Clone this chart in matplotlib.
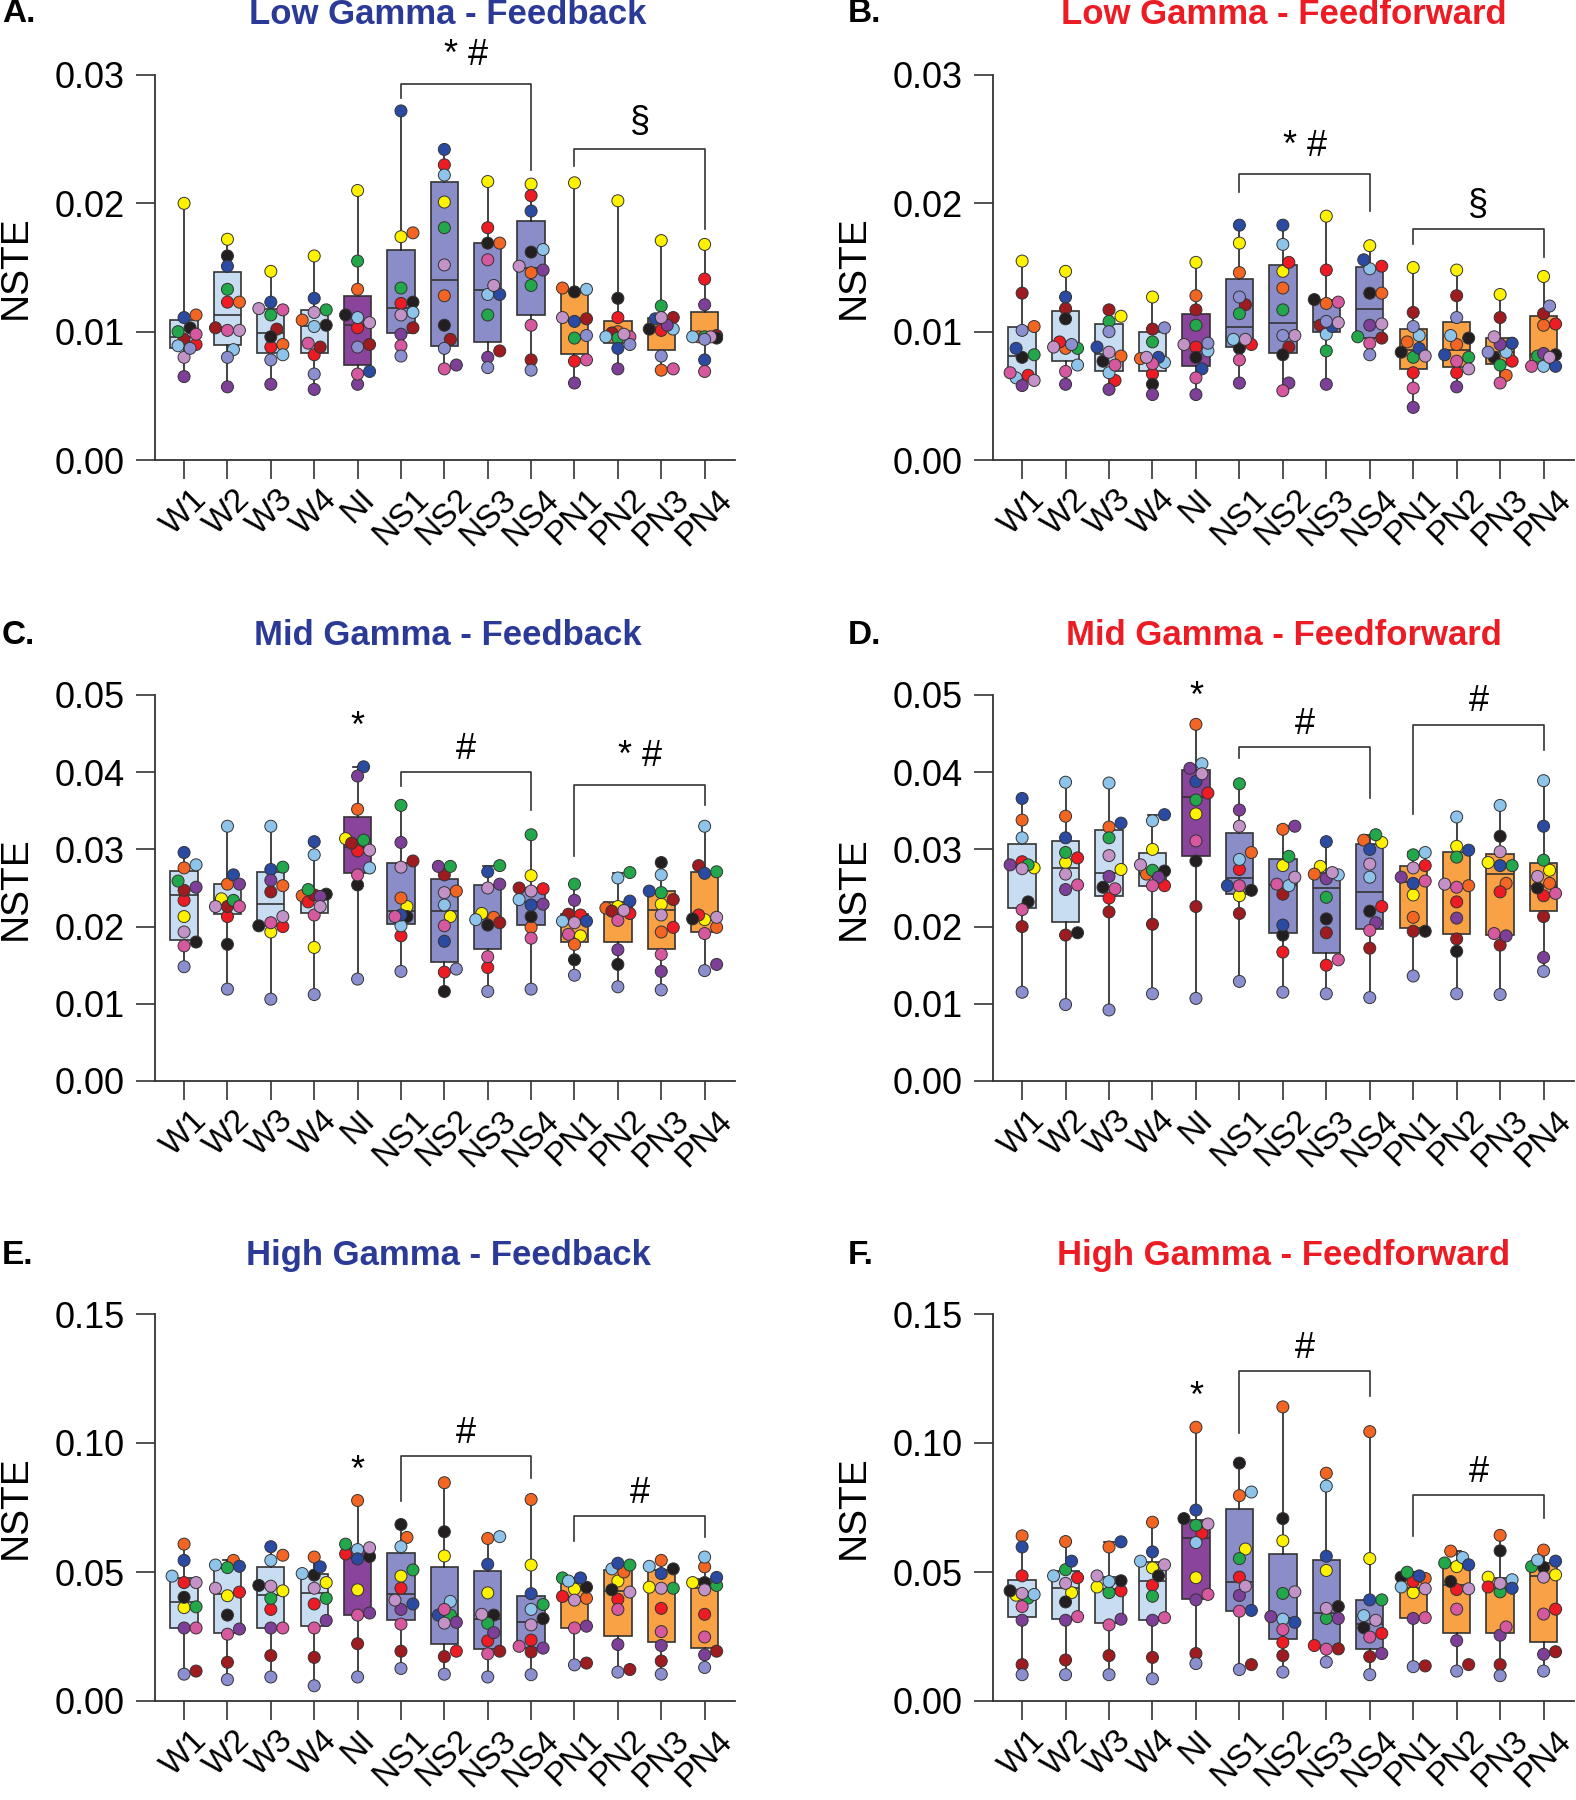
import numpy as np
import matplotlib
matplotlib.use("Agg")
import matplotlib.pyplot as plt
from matplotlib import cbook
from matplotlib.ticker import FormatStrFormatter

plt.rcParams['font.family'] = ['Liberation Sans', 'DejaVu Sans']

GROUPS = ['W1', 'W2', 'W3', 'W4', 'NI', 'NS1', 'NS2', 'NS3', 'NS4', 'PN1', 'PN2', 'PN3', 'PN4']
# subject order: yellow, orange, red, dark red, black, green, light blue, blue, purple, pink, lavender, slate
SUBJECT_COLORS = ['#FFF200', '#F26522', '#ED1C24', '#9E1B20', '#231F20', '#22A84A',
                  '#8EC4EA', '#2B4BA3', '#7E3F98', '#D6589E', '#C393C8', '#8B8FCF']

LOW_FB = [
    [.0200, .0113, .0090, .0094, .0103, .0100, .0089, .0111, .0065, .0098, .0080, .0087],
    [.0172, .0123, .0123, .0103, .0159, .0133, .0086, .0151, .0057, .0101, .0101, .0080],
    [.0147, .0090, .0088, .0102, .0096, .0113, .0082, .0123, .0059, .0117, .0118, .0078],
    [.0159, .0109, .0082, .0088, .0105, .0117, .0104, .0126, .0055, .0091, .0115, .0067],
    [.0210, .0133, .0103, .0090, .0113, .0155, .0111, .0069, .0059, .0067, .0107, .0088],
    [.0174, .0177, .0122, .0103, .0123, .0134, .0115, .0272, .0098, .0089, .0113, .0081],
    [.0201, .0128, .0230, .0094, .0105, .0181, .0222, .0242, .0074, .0071, .0152, .0087],
    [.0217, .0169, .0181, .0085, .0169, .0113, .0129, .0129, .0080, .0156, .0136, .0072],
    [.0215, .0146, .0206, .0078, .0162, .0136, .0164, .0194, .0148, .0105, .0151, .0070],
    [.0216, .0134, .0077, .0110, .0131, .0095, .0133, .0108, .0060, .0078, .0111, .0097],
    [.0202, .0100, .0111, .0099, .0126, .0095, .0096, .0087, .0071, .0096, .0098, .0090],
    [.0171, .0070, .0101, .0111, .0102, .0120, .0102, .0110, .0105, .0071, .0111, .0081],
    [.0168, .0096, .0141, .0097, .0095, .0096, .0096, .0078, .0121, .0069, .0096, .0094],
]
LOW_FF = [
    [.0155, .0104, .0066, .0130, .0080, .0082, .0064, .0087, .0058, .0068, .0062, .0101],
    [.0147, .0087, .0092, .0118, .0110, .0087, .0074, .0127, .0059, .0069, .0088, .0090],
    [.0112, .0081, .0062, .0117, .0077, .0108, .0068, .0088, .0055, .0074, .0084, .0100],
    [.0127, .0079, .0067, .0102, .0059, .0092, .0076, .0080, .0051, .0075, .0080, .0103],
    [.0154, .0128, .0088, .0117, .0080, .0105, .0085, .0071, .0051, .0064, .0090, .0091],
    [.0169, .0146, .0090, .0121, .0087, .0114, .0094, .0183, .0060, .0078, .0094, .0127],
    [.0147, .0134, .0154, .0088, .0082, .0117, .0168, .0183, .0060, .0054, .0097, .0097],
    [.0190, .0122, .0148, .0105, .0125, .0085, .0098, .0104, .0059, .0123, .0107, .0108],
    [.0167, .0130, .0151, .0095, .0130, .0096, .0149, .0156, .0105, .0091, .0106, .0082],
    [.0150, .0092, .0068, .0115, .0084, .0080, .0097, .0087, .0041, .0056, .0081, .0104],
    [.0148, .0090, .0068, .0128, .0095, .0080, .0097, .0082, .0057, .0077, .0071, .0111],
    [.0129, .0066, .0077, .0111, .0080, .0074, .0084, .0091, .0090, .0060, .0096, .0084],
    [.0143, .0105, .0106, .0114, .0082, .0081, .0073, .0073, .0083, .0073, .0080, .0120],
]
MID_FB = [
    [.0213, .0276, .0234, .0247, .0180, .0259, .0280, .0296, .0251, .0175, .0193, .0148],
    [.0236, .0255, .0213, .0226, .0177, .0234, .0330, .0267, .0255, .0226, .0226, .0119],
    [.0193, .0253, .0200, .0245, .0201, .0277, .0330, .0274, .0260, .0205, .0213, .0106],
    [.0173, .0240, .0232, .0241, .0242, .0248, .0293, .0310, .0239, .0215, .0226, .0112],
    [.0314, .0352, .0298, .0308, .0254, .0312, .0276, .0407, .0395, .0267, .0299, .0132],
    [.0226, .0237, .0188, .0285, .0213, .0357, .0201, .0215, .0309, .0213, .0277, .0142],
    [.0213, .0246, .0141, .0267, .0116, .0278, .0228, .0181, .0278, .0201, .0244, .0145],
    [.0217, .0212, .0147, .0205, .0202, .0279, .0209, .0271, .0255, .0161, .0250, .0116],
    [.0266, .0199, .0249, .0250, .0213, .0319, .0235, .0228, .0229, .0185, .0246, .0119],
    [.0188, .0177, .0215, .0216, .0157, .0255, .0207, .0207, .0234, .0190, .0205, .0137],
    [.0226, .0224, .0217, .0220, .0151, .0270, .0263, .0233, .0170, .0208, .0221, .0122],
    [.0229, .0193, .0199, .0235, .0283, .0244, .0267, .0246, .0142, .0164, .0215, .0118],
    [.0209, .0199, .0215, .0279, .0210, .0271, .0330, .0269, .0151, .0191, .0212, .0143],
]
MID_FF = [
    [.0276, .0338, .0284, .0200, .0232, .0280, .0315, .0366, .0280, .0222, .0275, .0115],
    [.0283, .0343, .0289, .0189, .0192, .0296, .0387, .0315, .0248, .0254, .0268, .0099],
    [.0274, .0329, .0237, .0219, .0251, .0315, .0386, .0334, .0265, .0249, .0292, .0092],
    [.0300, .0268, .0253, .0203, .0272, .0273, .0337, .0345, .0264, .0253, .0280, .0113],
    [.0346, .0462, .0373, .0226, .0285, .0364, .0411, .0388, .0405, .0311, .0398, .0107],
    [.0240, .0296, .0274, .0217, .0247, .0385, .0287, .0253, .0351, .0253, .0330, .0129],
    [.0279, .0326, .0167, .0242, .0189, .0291, .0253, .0202, .0330, .0255, .0264, .0115],
    [.0278, .0268, .0150, .0192, .0210, .0238, .0267, .0310, .0262, .0157, .0270, .0113],
    [.0309, .0312, .0226, .0172, .0220, .0319, .0264, .0300, .0205, .0195, .0281, .0108],
    [.0241, .0212, .0279, .0194, .0194, .0293, .0296, .0256, .0264, .0259, .0276, .0136],
    [.0304, .0253, .0232, .0184, .0168, .0290, .0342, .0299, .0211, .0251, .0255, .0113],
    [.0283, .0256, .0245, .0176, .0317, .0279, .0357, .0279, .0188, .0191, .0297, .0112],
    [.0273, .0256, .0240, .0213, .0250, .0286, .0389, .0330, .0160, .0243, .0265, .0142],
]
HIGH_FB = [
    [.0362, .0608, .0459, .0116, .0402, .0365, .0484, .0545, .0283, .0283, .0459, .0104],
    [.0408, .0545, .0422, .0150, .0333, .0517, .0527, .0522, .0279, .0259, .0437, .0083],
    [.0427, .0565, .0355, .0176, .0448, .0398, .0545, .0598, .0283, .0283, .0445, .0093],
    [.0459, .0558, .0376, .0169, .0488, .0398, .0494, .0520, .0312, .0283, .0437, .0059],
    [.0431, .0777, .0570, .0222, .0560, .0608, .0587, .0551, .0341, .0333, .0594, .0093],
    [.0484, .0634, .0437, .0193, .0684, .0508, .0598, .0376, .0355, .0298, .0391, .0126],
    [.0562, .0846, .0193, .0172, .0656, .0333, .0386, .0333, .0305, .0355, .0302, .0104],
    [.0419, .0630, .0233, .0193, .0333, .0301, .0637, .0530, .0265, .0183, .0336, .0093],
    [.0527, .0781, .0236, .0190, .0319, .0374, .0355, .0416, .0205, .0212, .0295, .0102],
    [.0434, .0398, .0405, .0147, .0441, .0477, .0465, .0477, .0290, .0283, .0391, .0140],
    [.0465, .0500, .0394, .0122, .0431, .0527, .0512, .0534, .0219, .0355, .0422, .0112],
    [.0441, .0545, .0359, .0155, .0512, .0437, .0522, .0494, .0215, .0269, .0437, .0104],
    [.0459, .0520, .0336, .0193, .0459, .0448, .0558, .0479, .0179, .0248, .0431, .0130],
]
HIGH_FF = [
    [.0410, .0640, .0485, .0141, .0427, .0399, .0413, .0597, .0313, .0366, .0417, .0102],
    [.0420, .0618, .0478, .0159, .0384, .0509, .0485, .0542, .0313, .0327, .0456, .0102],
    [.0442, .0597, .0427, .0176, .0466, .0420, .0463, .0617, .0317, .0295, .0485, .0102],
    [.0516, .0693, .0449, .0169, .0485, .0406, .0542, .0578, .0313, .0323, .0528, .0086],
    [.0478, .1061, .0650, .0184, .0707, .0681, .0614, .0740, .0392, .0413, .0686, .0145],
    [.0589, .0796, .0480, .0141, .0922, .0552, .0810, .0351, .0409, .0348, .0445, .0122],
    [.0621, .1140, .0227, .0176, .0707, .0417, .0317, .0305, .0327, .0277, .0423, .0112],
    [.0506, .0883, .0215, .0202, .0366, .0320, .0833, .0561, .0320, .0201, .0359, .0151],
    [.0552, .1044, .0262, .0172, .0284, .0392, .0331, .0392, .0184, .0248, .0313, .0102],
    [.0420, .0475, .0463, .0136, .0480, .0499, .0442, .0485, .0320, .0323, .0435, .0133],
    [.0521, .0581, .0432, .0141, .0463, .0535, .0556, .0528, .0234, .0356, .0435, .0116],
    [.0480, .0642, .0442, .0141, .0582, .0423, .0470, .0437, .0255, .0287, .0456, .0098],
    [.0489, .0585, .0356, .0191, .0518, .0521, .0546, .0542, .0181, .0337, .0480, .0116],
]

BOX_FILL = ['#C9DDF2'] * 4 + ['#8A449B'] + ['#8A8DC8'] * 4 + ['#F8A145'] * 4
BLUE_T = '#2B3A97'
RED_T = '#ED1C24'

# brackets: (label, x1, x2, top, left leg end, right leg end, text y)
PANELS = [
    dict(letter='A.', title='Low Gamma - Feedback', tcolor=BLUE_T, data=LOW_FB, ymax=0.03,
         yticks=[0, 0.01, 0.02, 0.03], col=0, row=0,
         brackets=[('* #', 5, 8, .0293, .0282, .0226, .0315), ('§', 9, 12, .0242, .0229, .0180, .0263)],
         stars=[]),
    dict(letter='B.', title='Low Gamma - Feedforward', tcolor=RED_T, data=LOW_FF, ymax=0.03,
         yticks=[0, 0.01, 0.02, 0.03], col=1, row=0,
         brackets=[('* #', 5, 8, .0223, .0209, .0194, .0244), ('§', 9, 12, .0180, .0168, .0158, .0198)],
         stars=[]),
    dict(letter='C.', title='Mid Gamma - Feedback', tcolor=BLUE_T, data=MID_FB, ymax=0.05,
         yticks=[0, 0.01, 0.02, 0.03, 0.04, 0.05], col=0, row=1,
         brackets=[('#', 5, 8, .0400, .0382, .0351, .0430), ('* #', 9, 12, .0384, .0291, .0358, .0420)],
         stars=[(4, .0458)]),
    dict(letter='D.', title='Mid Gamma - Feedforward', tcolor=RED_T, data=MID_FF, ymax=0.05,
         yticks=[0, 0.01, 0.02, 0.03, 0.04, 0.05], col=1, row=1,
         brackets=[('#', 5, 8, .0433, .0419, .0367, .0462), ('#', 9, 12, .0461, .0346, .0429, .0491)],
         stars=[(4, .0497)]),
    dict(letter='E.', title='High Gamma - Feedback', tcolor=BLUE_T, data=HIGH_FB, ymax=0.15,
         yticks=[0, 0.05, 0.10, 0.15], col=0, row=2,
         brackets=[('#', 5, 8, .0949, .0777, .0863, .1035), ('#', 9, 12, .0716, .0620, .0634, .0806)],
         stars=[(4, .0890)]),
    dict(letter='F.', title='High Gamma - Feedforward', tcolor=RED_T, data=HIGH_FF, ymax=0.15,
         yticks=[0, 0.05, 0.10, 0.15], col=1, row=2,
         brackets=[('#', 5, 8, .1281, .1040, .1183, .1367), ('#', 9, 12, .0800, .0638, .0710, .0886)],
         stars=[(4, .1178)]),
]

W, H = 1576, 1800
COL_X = [(155, 735), (993, 1574)]
ROW_Y = [(75, 460), (695, 1081), (1314, 1701)]
TITLE_X = [448, 1284]
TITLE_Y = [14, 635, 1255]
LETTER_X = [2, 848]
XLIM = (-0.67, 12.7)
DOT = 12.0  # dot diameter, px


def swarm(vals, ypx, xpx):
    # compact beeswarm in pixel space, spread kept inside the box
    order = np.argsort(vals)
    placed = []
    offs = np.zeros(len(vals))
    steps = [0, 1, -1, 2, -2]
    for i in order:
        y = vals[i] * ypx
        best, best_d = 0, -1
        for k in steps:
            x = k * DOT * 0.5
            d = min([np.hypot(x - px, y - py) for px, py in placed] + [1e9])
            if d >= DOT * 0.8:
                best = x
                break
            if d > best_d:
                best, best_d = x, d
        placed.append((best, y))
        offs[i] = best / xpx
    return offs


fig = plt.figure(figsize=(W / 100, H / 100), dpi=100)

for p in PANELS:
    l, r = COL_X[p['col']]
    t, b = ROW_Y[p['row']]
    ax = fig.add_axes([l / W, 1 - b / H, (r - l) / W, (b - t) / H])
    data = [np.array(g) for g in p['data']]

    stats = cbook.boxplot_stats(data, whis=(0, 100))
    for st, v in zip(stats, data):
        st['q1'], st['q3'] = np.percentile(v, [25, 75], method='weibull')
    bp = ax.bxp(stats, positions=range(len(GROUPS)), widths=0.63, patch_artist=True,
                showfliers=False, capwidths=0.22,
                boxprops=dict(edgecolor='#333333', linewidth=1.2),
                medianprops=dict(color='#333333', linewidth=1.2),
                whiskerprops=dict(color='#222222', linewidth=1.2),
                capprops=dict(color='#222222', linewidth=1.2), zorder=2)
    for patch, fc in zip(bp['boxes'], BOX_FILL):
        patch.set_facecolor(fc)

    xpx = (r - l) / (XLIM[1] - XLIM[0])
    ypx = (b - t) / p['ymax']
    for i, v in enumerate(data):
        offs = swarm(v, ypx, xpx)
        ax.scatter(i + offs, v, s=(DOT * 0.72) ** 2, c=SUBJECT_COLORS, edgecolors='#333333',
                   linewidths=0.7, zorder=3, clip_on=False)

    for lab, x1, x2, top, yl, yr, ty in p['brackets']:
        ax.plot([x1, x1, x2, x2], [yl, top, top, yr], color='#333333', lw=1.2, clip_on=False)
        ax.text((x1 + x2) / 2, ty, lab, ha='center', va='center', fontsize=26, clip_on=False)
    for x, y in p['stars']:
        ax.text(x, y, '*', ha='center', va='center', fontsize=26, clip_on=False)

    ax.set_xlim(*XLIM)
    ax.set_ylim(0, p['ymax'])
    ax.set_yticks(p['yticks'])
    ax.yaxis.set_major_formatter(FormatStrFormatter('%.2f'))
    ax.set_xticks(range(len(GROUPS)))
    ax.set_xticklabels(GROUPS, rotation=45, ha='center', va='top', fontsize=24)
    for s in ['top', 'right']:
        ax.spines[s].set_visible(False)
    for s in ['left', 'bottom']:
        ax.spines[s].set_linewidth(1.3)
        ax.spines[s].set_color('#333333')
    ax.tick_params(axis='both', length=14, width=1.2, color='#333333', direction='out')
    ax.tick_params(axis='y', labelsize=26, pad=8)
    ax.tick_params(axis='x', pad=3)
    ax.text(-0.24, 0.5, 'NSTE', rotation=90, ha='center', va='center', fontsize=28,
            transform=ax.transAxes)

    fig.text(TITLE_X[p['col']] / W, 1 - TITLE_Y[p['row']] / H, p['title'], color=p['tcolor'],
             fontsize=25, fontweight='bold', ha='center', va='center')
    fig.text(LETTER_X[p['col']] / W, 1 - TITLE_Y[p['row']] / H, p['letter'], color='black',
             fontsize=24, fontweight='bold', ha='left', va='center')

fig.savefig('out.png', dpi=100)
